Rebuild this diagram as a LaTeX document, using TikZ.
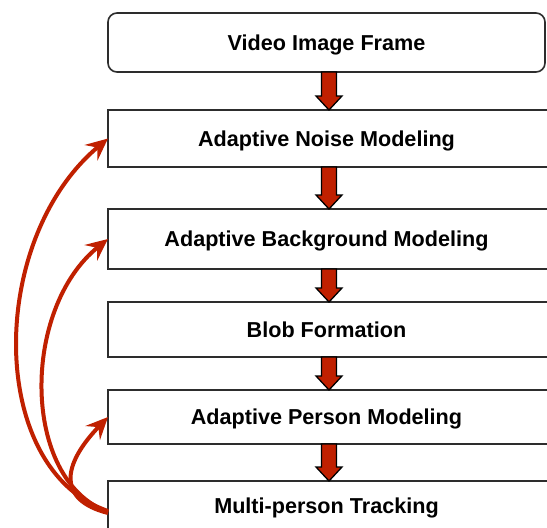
\documentclass[tikz,border=0pt]{standalone}
\usepackage{fontspec}
\setmainfont{Liberation Sans}
\usetikzlibrary{arrows.meta,calc}
\definecolor{arrred}{RGB}{192,32,0}
\definecolor{boxline}{RGB}{45,45,45}
\begin{document}
\begin{tikzpicture}[x=1pt,y=-1pt,
  box/.style={anchor=north west, minimum width=437pt, inner sep=0pt, outer sep=0pt,
    font=\bfseries\fontsize{21.6}{22}\selectfont, text height=15pt, text depth=0pt},
  frame/.style={draw=boxline, line width=1.6pt},
  barr/.style={draw=black, line width=1.3pt, fill=arrred, line join=miter},
  fb/.style={draw=arrred, line width=4pt, -{Stealth[length=22pt,width=20pt,inset=8pt]}}]
\useasboundingbox (0,0) rectangle (547,528);
\fill[white] (0,0) rectangle (547,528);
\clip (0,0) rectangle (547,528);
\node[box, minimum height=59pt, draw=boxline, line width=1.6pt, rounded corners=9pt] (n1) at (108,13) {Video Image Frame};
\node[box, minimum height=57pt] (n2) at (108,110) {Adaptive Noise Modeling};
\node[box, minimum height=60pt] (n3) at (108,209) {Adaptive Background Modeling};
\node[box, minimum height=55pt] (n4) at (108,302) {Blob Formation};
\node[box, minimum height=54pt] (n5) at (108,390) {Adaptive Person Modeling};
\node[box, minimum height=50pt] (n6) at (108,481) {Multi-person Tracking};
\foreach \n in {n2,n3,n4,n5,n6}
  \draw[frame] (\n.north west) rectangle ([xshift=15pt]\n.south east);
\foreach \a/\b in {n1/n2,n2/n3,n3/n4,n4/n5,n5/n6}
  \draw[barr] let \p1=(\a.south), \p2=(\b.north) in
    ({\x2-5pt},\y1) -- ({\x2-5pt},{\y2+14pt}) -- ({\x2-10.5pt},{\y2+14pt}) --
    ({\x2+2.5pt},\y2) -- ({\x2+15.5pt},{\y2+14pt}) -- ({\x2+10pt},{\y2+14pt}) --
    ({\x2+10pt},\y1) -- cycle;
\draw[fb] ([yshift=-5pt]n6.west) .. controls (-13,470) and (-13,240) .. (n2.west);
\draw[fb] ([yshift=-6pt]n6.west) .. controls (21,480) and (21,309) .. (n3.west);
\draw[fb] ([yshift=-7pt]n6.west) .. controls (57,500) and (62,465) .. (n5.west);
\end{tikzpicture}
\end{document}
